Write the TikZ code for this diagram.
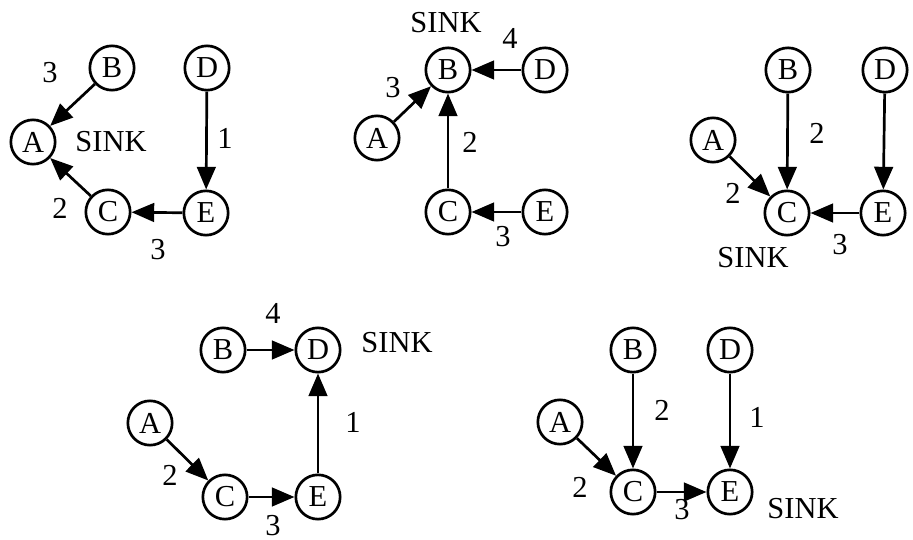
\documentclass[tikz,border=0pt]{standalone}
\usepackage{fontspec}
\setmainfont{Liberation Serif}
\usetikzlibrary{arrows.meta}

\begin{document}
\begin{tikzpicture}[x=0.03cm, y=-0.03cm, every node/.style={font=\fontsize{26}{30}\selectfont}, >={Triangle[length=0.68cm, width=0.56cm]}, vtx/.style={draw, circle, line width=2.3pt, minimum size=1.33cm, inner sep=0pt}, link/.style={->, line width=2.3pt}]
	\useasboundingbox (0,0) rectangle (913,540);
	% sink at A
	\node[vtx] (a1) at (33,142) {A};
	\node[vtx] (b1) at (112,68) {B};
	\node[vtx] (c1) at (108,212) {C};
	\node[vtx] (d1) at (207,68) {D};
	\node[vtx] (e1) at (206,213) {E};
	\draw[link] (b1) -- (a1);
	\draw[link] (c1) -- (a1);
	\draw[link] (d1) -- (e1);
	\draw[link] (e1) -- (c1);
	\node (s1) at (111,142) {SINK};
	\node (w1ba) at (50,73) {3};
	\node (w1ca) at (60,208) {2};
	\node (w1de) at (225,138) {1};
	\node (w1ec) at (158,250) {3};
	% sink at B
	\node[vtx] (a2) at (377,138) {A};
	\node[vtx] (b2) at (448,70) {B};
	\node[vtx] (c2) at (448,212) {C};
	\node[vtx] (d2) at (545,70) {D};
	\node[vtx] (e2) at (545,212) {E};
	\draw[link] (a2) -- (b2);
	\draw[link] (c2) -- (b2);
	\draw[link] (d2) -- (b2);
	\draw[link] (e2) -- (c2);
	\node (s2) at (446,23) {SINK};
	\node (w2ab) at (393,88) {3};
	\node (w2cb) at (470,142) {2};
	\node (w2db) at (510,38) {4};
	\node (w2ec) at (503,237) {3};
	% sink at C
	\node[vtx] (a3) at (713,140) {A};
	\node[vtx] (b3) at (788,70) {B};
	\node[vtx] (c3) at (787,213) {C};
	\node[vtx] (d3) at (885,70) {D};
	\node[vtx] (e3) at (883,213) {E};
	\draw[link] (a3) -- (c3);
	\draw[link] (b3) -- (c3);
	\draw[link] (d3) -- (e3);
	\draw[link] (e3) -- (c3);
	\node (s3) at (753,258) {SINK};
	\node (w3ac) at (733,193) {2};
	\node (w3bc) at (817,133) {2};
	\node (w3ec) at (840,245) {3};
	% sink at D
	\node[vtx] (a4) at (150,423) {A};
	\node[vtx] (b4) at (223,350) {B};
	\node[vtx] (c4) at (225,497) {C};
	\node[vtx] (d4) at (318,350) {D};
	\node[vtx] (e4) at (318,497) {E};
	\draw[link] (a4) -- (c4);
	\draw[link] (b4) -- (d4);
	\draw[link] (c4) -- (e4);
	\draw[link] (e4) -- (d4);
	\node (s4) at (397,343) {SINK};
	\node (w4ac) at (170,475) {2};
	\node (w4bd) at (273,313) {4};
	\node[inner sep=0pt] (w4ce) at (273,526) {3};
	\node (w4ed) at (353,422) {1};
	% sink at E
	\node[vtx] (a5) at (560,422) {A};
	\node[vtx] (b5) at (633,350) {B};
	\node[vtx] (c5) at (633,492) {C};
	\node[vtx] (d5) at (730,350) {D};
	\node[vtx] (e5) at (730,492) {E};
	\draw[link] (a5) -- (c5);
	\draw[link] (b5) -- (c5);
	\draw[link] (c5) -- (e5);
	\draw[link] (d5) -- (e5);
	\node (s5) at (803,509) {SINK};
	\node (w5ac) at (580,487) {2};
	\node (w5bc) at (662,410) {2};
	\node (w5ce) at (682,510) {3};
	\node (w5de) at (757,417) {1};
\end{tikzpicture}
\end{document}
